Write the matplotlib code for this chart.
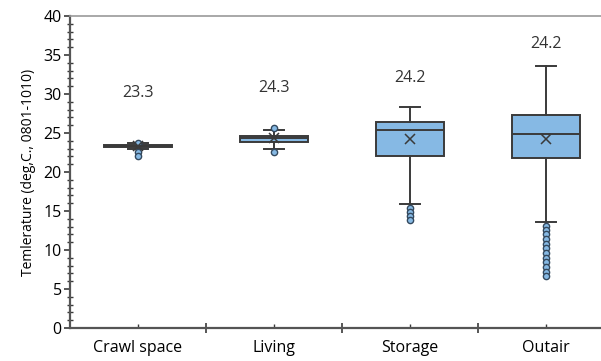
import matplotlib.pyplot as plt
from matplotlib.ticker import MultipleLocator, FixedLocator

plt.rcParams['font.family'] = ['Open Sans', 'DejaVu Sans']

# Data
locations = ['Crawl space', 'Living', 'Storage', 'Outair']
means = [23.3, 24.3, 24.2, 24.2]
q1 = [23.2, 23.8, 22.1, 21.8]
medians = [23.3, 24.3, 25.4, 24.9]
q3 = [23.4, 24.6, 26.4, 27.3]
whisk_lo = [22.9, 22.9, 15.9, 13.6]
whisk_hi = [23.7, 25.4, 28.3, 33.6]
fliers = [
    [23.7, 22.6, 22.0],
    [25.7, 22.6],
    [15.4, 14.9, 14.4, 13.8],
    [13.1, 12.6, 12.0, 11.4, 10.8, 10.2, 9.6, 9.0, 8.4, 7.8, 7.2, 6.7],
]

stats = []
for i in range(len(locations)):
    stats.append(dict(label=locations[i], mean=means[i], q1=q1[i], med=medians[i],
                      q3=q3[i], whislo=whisk_lo[i], whishi=whisk_hi[i],
                      fliers=fliers[i]))

fig = plt.figure(figsize=(6.01, 3.61), dpi=100)
ax = fig.add_axes([70 / 601, 33 / 361, 1 - 70 / 601, 312 / 361])

edge = '#3a3a3a'
ax.bxp(stats, positions=range(4), widths=0.5, showmeans=True, patch_artist=True,
       boxprops=dict(facecolor='#86b9e4', edgecolor=edge, linewidth=1.4),
       medianprops=dict(color=edge, linewidth=1.4),
       whiskerprops=dict(color=edge, linewidth=1.4),
       capprops=dict(color=edge, linewidth=1.4),
       capwidths=0.15,
       meanprops=dict(marker='x', markeredgecolor=edge, markersize=7, markeredgewidth=1.1),
       flierprops=dict(marker='o', markerfacecolor='#86b9e4', markeredgecolor='#34495e',
                       markersize=4.5, markeredgewidth=1))

# mean labels
label_y = [30.1, 30.8, 32.1, 36.4]
for i in range(4):
    ax.text(i, label_y[i], f'{means[i]:.1f}', ha='center', va='center',
            fontsize=11.5, color='#333333')

ax.set_ylim(0, 40)
ax.set_xlim(-0.5, 3.5 - 13 / 136)
ax.yaxis.set_major_locator(MultipleLocator(5))
ax.yaxis.set_minor_locator(MultipleLocator(1))
ax.tick_params(axis='y', which='major', direction='out', length=4, labelsize=11.5,
               width=1.2, color=edge, pad=2)
ax.tick_params(axis='y', which='minor', direction='inout', length=4, width=1, color=edge)

ax.xaxis.set_major_locator(FixedLocator([0.5, 1.5, 2.5]))
ax.xaxis.set_minor_locator(FixedLocator(range(4)))
ax.xaxis.set_minor_formatter(plt.FixedFormatter(locations))
ax.xaxis.set_major_formatter(plt.NullFormatter())
ax.tick_params(axis='x', which='major', direction='inout', length=7, width=1.2, color=edge)
ax.tick_params(axis='x', which='minor', direction='in', length=3, width=1, color=edge,
               labelsize=11.5, pad=9)

for s in ['left', 'bottom']:
    ax.spines[s].set_color('#555555')
    ax.spines[s].set_linewidth(1.6)
ax.spines['top'].set_color('#999999')
ax.spines['top'].set_linewidth(1.2)
ax.spines['right'].set_visible(False)

ax.set_ylabel('Temlerature (deg,C., 0801-1010)', fontsize=10, labelpad=5)

fig.savefig('out.png', dpi=100)
